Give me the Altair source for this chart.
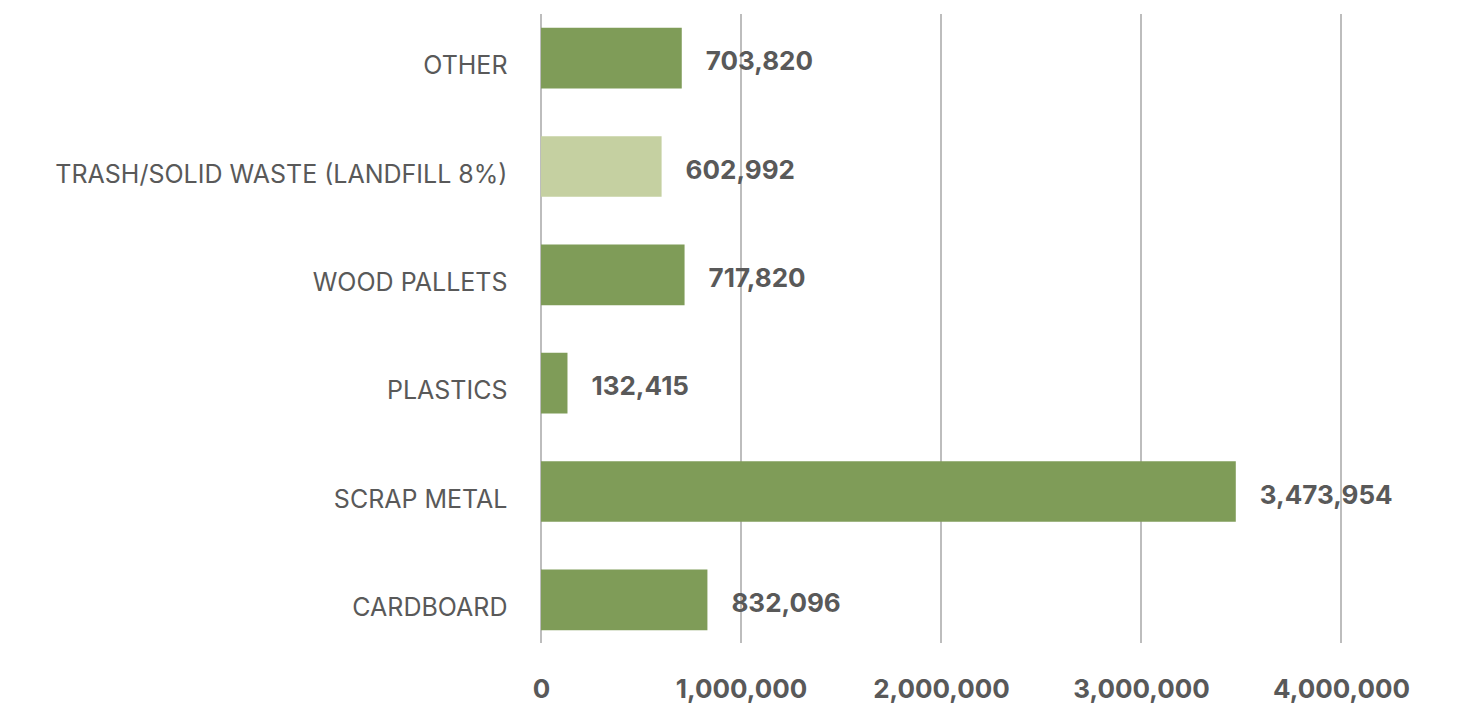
import altair as alt
import pandas as pd

categories = ["OTHER", "TRASH/SOLID WASTE (LANDFILL 8%)", "WOOD PALLETS", "PLASTICS", "SCRAP METAL", "CARDBOARD"]
values = [703820, 602992, 717820, 132415, 3473954, 832096]
kinds = ["main", "landfill", "main", "main", "main", "main"]
x_ticks = [0, 1000000, 2000000, 3000000, 4000000]

df = pd.DataFrame({"category": categories, "value": values, "kind": kinds})
df["label"] = df["value"].map(lambda v: f"{v:,}")
grid_df = pd.DataFrame({"tick": x_ticks})

FONT = "Inter"
TXT = "#595959"
PLOT_H = 629

y_scale = alt.Scale(range=[-10, 640], paddingInner=0.44, paddingOuter=0.22)
x_scale = alt.Scale(domain=[0, 4000000], nice=False)

y_enc = alt.Y(
    "category:N",
    sort=categories,
    title=None,
    scale=y_scale,
    axis=alt.Axis(
        domain=False, ticks=False, grid=False,
        labelFont=FONT, labelFontSize=25, labelColor=TXT, labelFontWeight="normal",
        labelPadding=34, labelOffset=8, labelLimit=700,
    ),
)
x_enc = alt.X(
    "value:Q",
    title=None,
    scale=x_scale,
    axis=alt.Axis(
        values=x_ticks, format=",d", domain=False, ticks=False, grid=False,
        labelFont=FONT, labelFontSize=26, labelFontWeight="bold", labelColor=TXT,
        labelPadding=33, labelFlush=False, labelBaseline="top",
    ),
)

grid = alt.Chart(grid_df).mark_rule(color="#BDBDBD", strokeWidth=2).encode(
    x=alt.X("tick:Q", scale=x_scale),
    y=alt.value(0),
    y2=alt.value(PLOT_H),
)

bars = alt.Chart(df).mark_bar().encode(
    x=x_enc,
    y=y_enc,
    color=alt.Color("kind:N", scale=alt.Scale(domain=["main", "landfill"], range=["#7F9C58", "#C5D0A1"]), legend=None),
)

labels = alt.Chart(df).mark_text(
    align="left", baseline="middle", dx=24, dy=4,
    font=FONT, fontSize=26, fontWeight="bold", color=TXT,
).encode(
    x=alt.X("value:Q", scale=x_scale),
    y=alt.Y("category:N", sort=categories, scale=y_scale),
    text="label:N",
)

chart = (grid + bars + labels).properties(
    width=800, height=PLOT_H,
    autosize=alt.AutoSizeParams(type="none"),
    padding={"left": 533, "top": 6, "right": 132, "bottom": 62},
).configure(background="white").configure_view(stroke=None, strokeWidth=0)

chart.save("out.html", embed_options={"renderer": "svg", "actions": False})
